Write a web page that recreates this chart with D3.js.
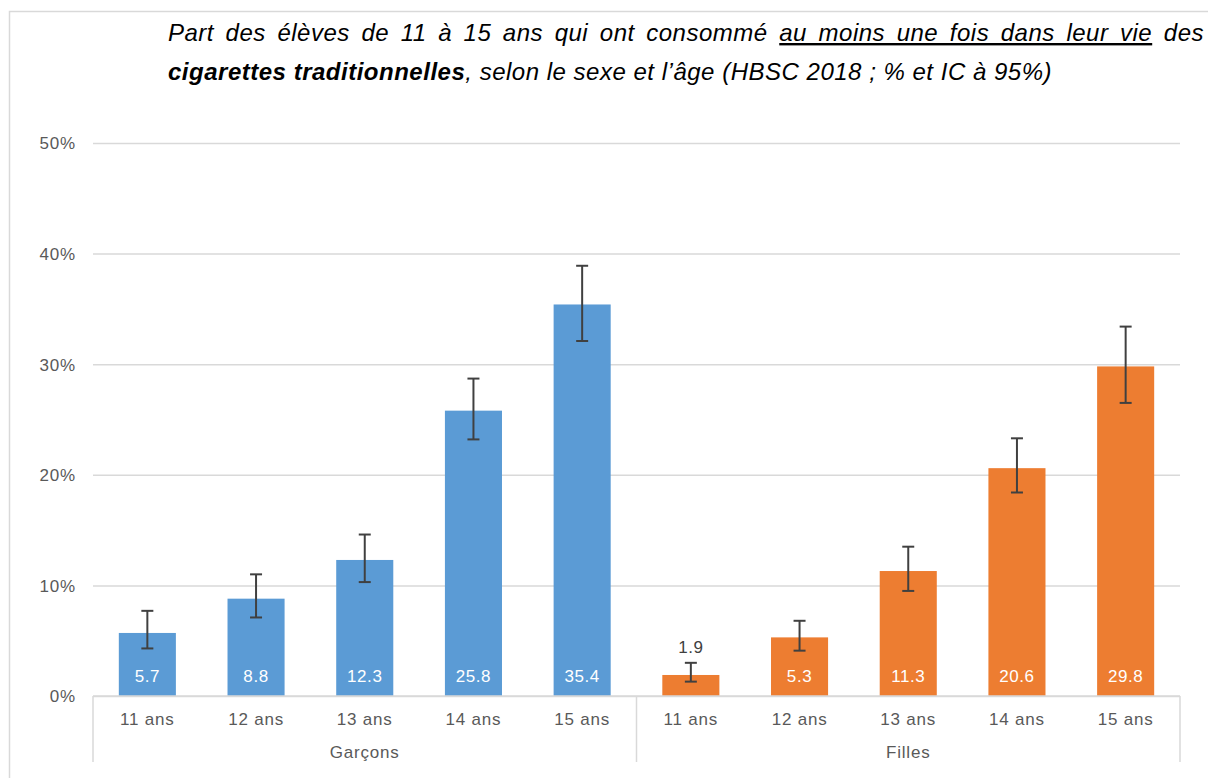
<!DOCTYPE html>
<html><head><meta charset="utf-8">
<script src="https://cdn.jsdelivr.net/npm/d3@7/dist/d3.min.js"></script>
<style>body{margin:0;background:#fff;overflow:hidden} text{font-family:"Liberation Sans",Arial,sans-serif}</style>
</head><body>
<svg id="c" width="1208" height="778"></svg>
<script>
const groups = ["Garçons", "Filles"];
const ages = ["11 ans", "12 ans", "13 ans", "14 ans", "15 ans"];
const garcons = [5.7, 8.8, 12.3, 25.8, 35.4];
const garconsLow = [4.3, 7.1, 10.3, 23.2, 32.1];
const garconsHigh = [7.7, 11.0, 14.6, 28.7, 38.9];
const filles = [1.9, 5.3, 11.3, 20.6, 29.8];
const fillesLow = [1.3, 4.1, 9.5, 18.4, 26.5];
const fillesHigh = [3.0, 6.8, 13.5, 23.3, 33.4];
const yTicks = [0, 10, 20, 30, 40, 50];
const colors = ["#5B9BD5", "#ED7D31"];

const series = [
  {vals: garcons, low: garconsLow, high: garconsHigh},
  {vals: filles, low: fillesLow, high: fillesHigh}
];
const rows = [];
groups.forEach((g, gi) => ages.forEach((a, ai) => rows.push({
  key: g + "|" + a, group: g, gi, age: a,
  v: series[gi].vals[ai], lo: series[gi].low[ai], hi: series[gi].high[ai]
})));

const svg = d3.select("#c");
const L = 93, R = 1180, T = 143, B = 696, AXB = 762;

// outer frame
svg.append("rect").attr("x", 9.5).attr("y", 11.5).attr("width", 1220).attr("height", 800)
  .attr("fill", "none").attr("stroke", "#d9d9d9").attr("stroke-width", 1.5);

const x = d3.scaleBand().domain(rows.map(d => d.key)).range([L, R]).paddingInner(0.475).paddingOuter(0.2375);
const y = d3.scaleLinear().domain([0, 50]).range([B, T]);

// gridlines + y labels
const ya = svg.append("g").attr("transform", `translate(${L},0)`)
  .call(d3.axisLeft(y).tickValues(yTicks).tickSize(-(R - L)).tickFormat(d => d + "%").tickPadding(17));
ya.select(".domain").remove();
ya.selectAll(".tick line").attr("stroke", "#d9d9d9").attr("stroke-width", 1.5);
ya.selectAll(".tick text").attr("fill", "#595959").style("font-size", "17px").style("letter-spacing", "0.8px").attr("dy", "0.35em");

// bars
svg.append("g").selectAll("rect").data(rows).join("rect")
  .attr("x", d => x(d.key)).attr("width", x.bandwidth())
  .attr("y", d => y(d.v)).attr("height", d => y(0) - y(d.v))
  .attr("fill", d => colors[d.gi]);

// error bars
const eb = svg.append("g").attr("stroke", "#404040").attr("stroke-width", 2);
rows.forEach(d => {
  const cx = x(d.key) + x.bandwidth() / 2;
  eb.append("line").attr("x1", cx).attr("x2", cx).attr("y1", y(d.hi)).attr("y2", y(d.lo));
  eb.append("line").attr("x1", cx - 6).attr("x2", cx + 6).attr("y1", y(d.hi)).attr("y2", y(d.hi));
  eb.append("line").attr("x1", cx - 6).attr("x2", cx + 6).attr("y1", y(d.lo)).attr("y2", y(d.lo));
});

// data labels
svg.append("g").selectAll("text").data(rows).join("text")
  .attr("x", d => x(d.key) + x.bandwidth() / 2)
  .attr("y", d => (y(0) - y(d.v) < 30) ? y(d.hi) - 10 : y(0) - 14)
  .attr("text-anchor", "middle").style("font-size", "17px").style("letter-spacing", "0.6px")
  .attr("fill", d => (y(0) - y(d.v) < 30) ? "#404040" : "#ffffff")
  .text(d => d.v.toFixed(1));

// category axis box
const ax = svg.append("g").attr("stroke", "#d9d9d9").attr("stroke-width", 1.5);
ax.append("line").attr("x1", L).attr("x2", R).attr("y1", B).attr("y2", B);
const sep = x(rows[5].key) - x.step() * x.paddingInner() / 2;
[L, sep, R].forEach(xx => ax.append("line").attr("x1", xx).attr("x2", xx).attr("y1", B).attr("y2", AXB));

svg.append("g").selectAll("text").data(rows).join("text")
  .attr("x", d => x(d.key) + x.bandwidth() / 2).attr("y", 725)
  .attr("text-anchor", "middle").attr("fill", "#595959").style("font-size", "17px").style("letter-spacing", "0.8px")
  .text(d => d.age);
const gx = [(L + sep) / 2, (sep + R) / 2];
svg.append("g").selectAll("text").data(groups).join("text")
  .attr("x", (d, i) => gx[i]).attr("y", 758)
  .attr("text-anchor", "middle").attr("fill", "#595959").style("font-size", "17px").style("letter-spacing", "0.8px")
  .text(d => d);

// title
const t2 = svg.append("text").attr("x", 168).attr("y", 80).style("font-size", "24px").style("font-style", "italic").attr("fill", "#000");
t2.append("tspan").style("font-weight", "bold").text("cigarettes traditionnelles");
t2.append("tspan").text(", selon le sexe et l’âge (HBSC 2018 ; % et IC à 95%)");
const n2 = t2.text().length;
const w2 = t2.node().getComputedTextLength();
const ls = (1052 - 168 - w2) / n2;
t2.style("letter-spacing", ls + "px");

const t1 = svg.append("text").attr("x", 168).attr("y", 41).style("font-size", "24px").style("font-style", "italic").attr("fill", "#000").style("letter-spacing", ls + "px");
t1.append("tspan").text("Part des élèves de 11 à 15 ans qui ont consommé ");
t1.append("tspan").style("text-decoration", "underline").text("au moins une fois dans leur vie");
t1.append("tspan").text(" des");
const w1 = t1.node().getComputedTextLength();
t1.attr("word-spacing", Math.max(0, (1204 - 168 - w1) / 18));
</script>
</body></html>
